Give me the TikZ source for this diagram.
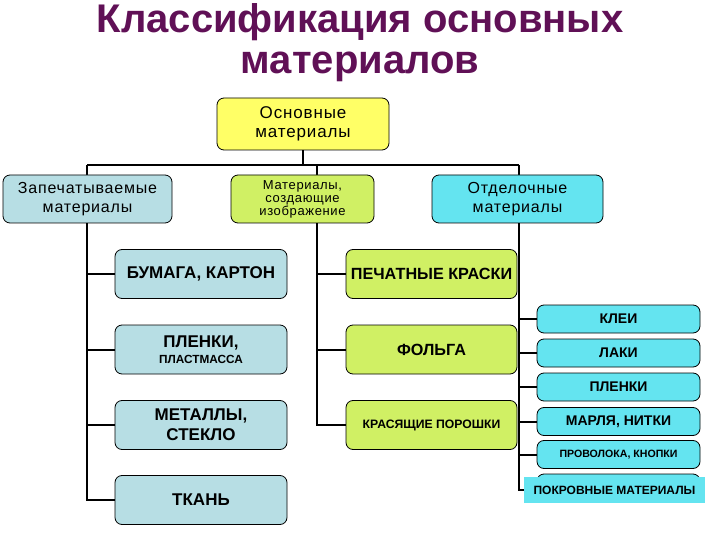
\documentclass[tikz,border=0pt]{standalone}
\usepackage{fontspec}
\setmainfont{Liberation Sans}
\usetikzlibrary{backgrounds}
\definecolor{titlepurple}{RGB}{96,16,86}
\definecolor{rootyellow}{RGB}{255,255,102}
\definecolor{printblue}{RGB}{183,222,228}
\definecolor{imagegreen}{RGB}{208,240,100}
\definecolor{finishcyan}{RGB}{100,228,240}
\newcommand{\fsz}[1]{\fontsize{#1}{1.15\dimexpr#1pt\relax}\selectfont}
\newcommand{\wide}{\addfontfeatures{LetterSpace=5}}

\begin{document}
\begin{tikzpicture}[x=1pt,y=-1pt,
  title/.style={font=\fsz{40}\bfseries, text=titlepurple, anchor=base},
  box/.style={draw, rounded corners=7pt, line width=0.8pt, align=center, inner sep=1pt, outer sep=0pt},
  head/.style={box, minimum height=48pt, font=\fsz{16}\wide},
  leaf/.style={box, minimum width=172pt, minimum height=49pt, fill=#1, font=\fsz{17}\bfseries},
  small/.style={box, minimum width=163pt, minimum height=28pt, fill=finishcyan, font=\fsz{14}\bfseries},
  link/.style={line width=2pt}]
\useasboundingbox (0,0) rectangle (720,540);

% title
\node[title] (title1) at (360,33) {Классификация основных};
\node[title] (title2) at (360,74) {материалов};

% top level
\node[box, fill=rootyellow, minimum width=172pt, minimum height=52pt, font=\fsz{17}\wide] (root) at (303,124) {Основные\\материалы};
\node[head, fill=printblue, minimum width=169pt] (zap) at (87.5,199) {Запечатываемые\\материалы};
\node[head, fill=imagegreen, minimum width=143pt, font=\fsz{13}\wide] (izo) at (302.5,199) {Материалы,\\[-2pt]создающие\\[-2pt]изображение};
\node[head, fill=finishcyan, minimum width=171pt] (otd) at (517.5,199) {Отделочные\\материалы};

% printed materials
\node[leaf=printblue] (bum) at (201,274) {БУМАГА, КАРТОН};
\node[leaf=printblue] (plen) at (201,349.5) {ПЛЕНКИ,\\[-3pt]{\fsz{11.8}ПЛАСТМАССА}};
\node[leaf=printblue] (met) at (201,425) {МЕТАЛЛЫ,\\СТЕКЛО};
\node[leaf=printblue] (tkan) at (201,500) {ТКАНЬ};

% image materials
\node[leaf=imagegreen, minimum width=171pt, font=\fsz{16.2}\bfseries] (kras) at (431.5,274) {ПЕЧАТНЫЕ КРАСКИ};
\node[leaf=imagegreen, minimum width=171pt, font=\fsz{16.2}\bfseries] (folg) at (431.5,349.5) {ФОЛЬГА};
\node[leaf=imagegreen, minimum width=171pt, font=\fsz{12.2}\bfseries] (por) at (431.5,425) {КРАСЯЩИЕ ПОРОШКИ};

% finishing materials
\node[small] (klei) at (618.5,319) {КЛЕИ};
\node[small] (laki) at (618.5,353) {ЛАКИ};
\node[small] (plenki) at (618.5,387) {ПЛЕНКИ};
\node[small] (marl) at (618.5,421.5) {МАРЛЯ, НИТКИ};
\node[small, font=\fsz{10.6}\bfseries] (prov) at (618.5,454.5) {ПРОВОЛОКА, КНОПКИ};
\node[small] (pokrbox) at (618.5,488) {};
\node[small, draw=none, rounded corners=0pt, minimum width=181pt, minimum height=26pt, font=\fsz{12}\bfseries] (pokr) at (614.5,490) {ПОКРОВНЫЕ МАТЕРИАЛЫ};

\begin{scope}[on background layer]
\coordinate (busL) at (87,165);
\coordinate (busR) at (519,165);
\coordinate (busM) at (317,165);
\draw[link] (root.south) -- (root.south |- busL);
\draw[link] (busL) -- (busR);
\draw[link] (busL) |- (tkan.west);
\foreach \n in {bum,plen,met} \draw[link] (\n.west) -- (\n.west -| busL);
\draw[link] (busM) |- (por.west);
\foreach \n in {kras,folg} \draw[link] (\n.west) -- (\n.west -| busM);
\draw[link] (busR) |- (pokr.west);
\foreach \n in {klei,laki,plenki,marl,prov} \draw[link] (\n.west) -- (\n.west -| busR);
\end{scope}
\end{tikzpicture}
\end{document}
